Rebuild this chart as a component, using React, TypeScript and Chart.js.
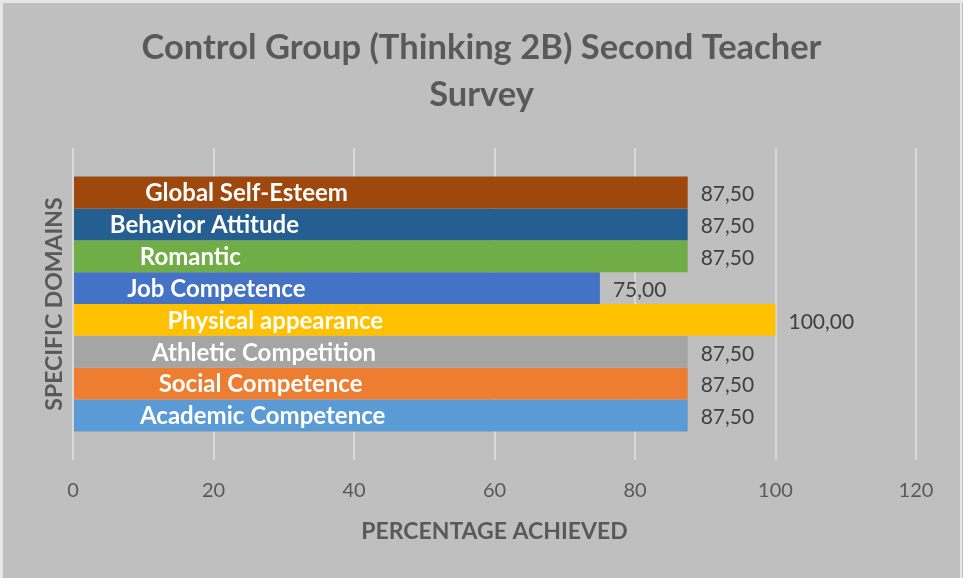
import React, { useEffect, useRef } from "react";
import { Chart, registerables } from "chart.js";

Chart.register(...registerables);

// Top-to-bottom order as displayed
const domains = [
  "Global Self-Esteem",
  "Behavior Attitude",
  "Romantic",
  "Job Competence",
  "Physical appearance",
  "Athletic Competition",
  "Social Competence",
  "Academic Competence",
];
const percentages = [87.5, 87.5, 87.5, 75, 100, 87.5, 87.5, 87.5];
const barColors = [
  "#9e480e",
  "#255e91",
  "#70ad47",
  "#4472c4",
  "#ffc000",
  "#a5a5a5",
  "#ed7d31",
  "#5b9bd5",
];
// Where each series-name label is centred, in axis units
const nameLabelCenters = [24.7, 18.7, 16.7, 20.4, 28.8, 27.2, 26.7, 27.0];
const xTicks = [0, 20, 40, 60, 80, 100, 120];
const titleLines = ["Control Group (Thinking 2B) Second Teacher", "Survey"];

const FONT = "Lato, 'Open Sans', sans-serif";

const bgPlugin = {
  id: "bgPlugin",
  beforeDraw(chart: any) {
    const { ctx, width, height } = chart;
    ctx.save();
    ctx.fillStyle = "#bfbfbf";
    ctx.fillRect(0, 0, width, height);
    ctx.fillStyle = "#e6e6e6";
    ctx.fillRect(0, 0, 3, height);
    ctx.fillRect(0, 0, width, 3);
    ctx.fillRect(width - 3, 0, 2, height);
    // chart title, centred on the whole chart
    ctx.font = `bold 34.5px ${FONT}`;
    ctx.fillStyle = "#595959";
    ctx.textAlign = "center";
    ctx.textBaseline = "middle";
    titleLines.forEach((t, i) => ctx.fillText(t, width / 2, 47.5 + i * 47));
    ctx.restore();
  },
};

const labelPlugin = {
  id: "labelPlugin",
  afterDatasetsDraw(chart: any) {
    const { ctx } = chart;
    const xScale = chart.scales.x;
    ctx.save();
    chart.data.datasets.forEach((ds: any, i: number) => {
      const meta = chart.getDatasetMeta(i);
      const el = meta.data[0];
      if (!el) return;
      const y = el.y;
      // series name inside the bar
      ctx.font = `bold 24px ${FONT}`;
      ctx.fillStyle = "#ffffff";
      ctx.textAlign = "center";
      ctx.textBaseline = "middle";
      ctx.fillText(ds.label, xScale.getPixelForValue(nameLabelCenters[i]), y + 1);
      // value to the right
      const v = ds.data[0] as number;
      ctx.font = `21px ${FONT}`;
      ctx.fillStyle = "#404040";
      ctx.textAlign = "left";
      ctx.fillText(v.toFixed(2).replace(".", ","), el.x + 13, y + 2);
    });
    ctx.restore();
  },
};

export default function App() {
  const ref = useRef<HTMLCanvasElement | null>(null);
  useEffect(() => {
    if (!ref.current) return;
    const chart = new Chart(ref.current, {
      type: "bar",
      data: {
        labels: [""],
        datasets: domains.map((d, i) => ({
          label: d,
          data: [percentages[i]],
          backgroundColor: barColors[i],
          borderWidth: 0,
          categoryPercentage: 0.817,
          barPercentage: 1,
        })),
      },
      options: {
        indexAxis: "y",
        animation: false,
        responsive: false,
        maintainAspectRatio: false,
        layout: { padding: { left: 10, right: 47, top: 148, bottom: 20 } },
        plugins: {
          legend: { display: false },
          tooltip: { enabled: false },
          title: { display: false },
        },
        scales: {
          x: {
            type: "linear",
            min: 0,
            max: 120,
            afterBuildTicks: (axis: any) => {
              axis.ticks = xTicks.map((v) => ({ value: v }));
            },
            afterFit: (axis: any) => {
              axis.height = 98;
            },
            grid: { color: "#d9d9d9", lineWidth: 2, drawTicks: false },
            border: { display: false },
            ticks: {
              color: "#595959",
              font: { family: FONT, size: 20 },
              padding: 19,
            },
            title: {
              display: true,
              text: "PERCENTAGE ACHIEVED",
              color: "#595959",
              font: { family: FONT, size: 23, weight: "bold", lineHeight: 1.2 },
              padding: { top: 4, bottom: 13 },
            },
          },
          y: {
            afterFit: (axis: any) => {
              axis.width = 63;
            },
            grid: { display: false },
            border: { display: false },
            ticks: { display: false },
            title: {
              display: true,
              text: "SPECIFIC DOMAINS",
              color: "#595959",
              font: { family: FONT, size: 23, weight: "bold", lineHeight: 1.2 },
              padding: { top: 31, bottom: 4 },
            },
          },
        },
      },
      plugins: [bgPlugin, labelPlugin],
    } as any);
    return () => chart.destroy();
  }, []);
  return (
    <div style={{ position: "absolute", left: 0, top: 0, width: 963, height: 578 }}>
      <canvas ref={ref} width={963} height={578} style={{ display: "block", width: 963, height: 578 }} />
    </div>
  );
}
